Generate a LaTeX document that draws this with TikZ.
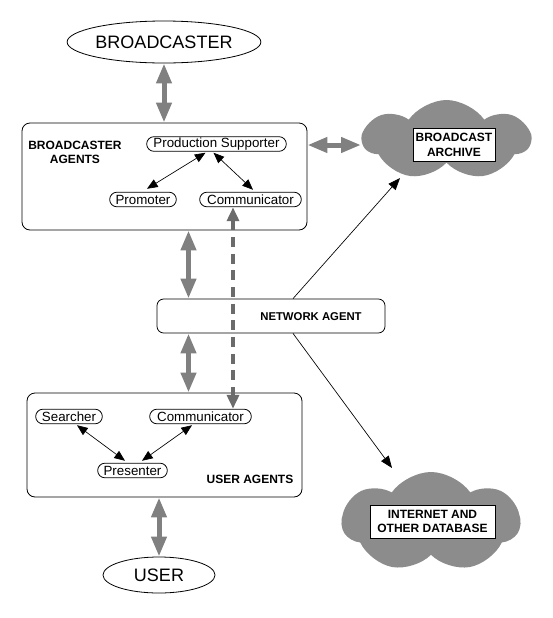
\documentclass[tikz,border=0pt]{standalone}
\usepackage{fontspec}
\setmainfont{Liberation Sans}
\usepackage{tikz}
\usetikzlibrary{shapes.geometric, shapes.misc, shapes.symbols, arrows.meta, positioning, calc}
\tikzset{
    agentbox/.style={rectangle, draw, rounded corners=6pt, line width=0.6pt},
    pill/.style={rounded rectangle, draw, line width=0.6pt, inner sep=0.5pt, minimum height=11pt, font=\fontsize{10}{11}\selectfont},
    endpoint/.style={ellipse, draw, line width=0.6pt, inner sep=0pt, font=\fontsize{13.5}{15}\selectfont},
    boxlabel/.style={font=\bfseries\fontsize{9}{10.5}\selectfont, align=center},
    cloudarea/.style={cloud, cloud puffs=7, cloud puff arc=110, cloud ignores aspect, fill=black!45, inner sep=0pt},
    cloudtext/.style={rectangle, draw, fill=white, line width=0.6pt, inner sep=0pt, align=center, font=\bfseries\fontsize{9}{11}\selectfont},
    bigarrow/.style={{Triangle[length=15pt,width=11pt]}-{Triangle[length=15pt,width=11pt]}, line width=3.75pt, draw=black!50},
    dasharrow/.style={{Triangle[length=10.5pt,width=9pt]}-{Triangle[length=10.5pt,width=9pt]}, line width=3pt, draw=black!58, dash pattern=on 7.5pt off 5pt},
    linkarrow/.style={-{Triangle[length=9pt,width=7pt]}, line width=0.5pt},
    innerarrow/.style={{Triangle[length=8pt,width=6.5pt]}-{Triangle[length=8pt,width=6.5pt]}, line width=0.5pt},
}

\begin{document}
\begin{tikzpicture}[x=0.75pt, y=-0.75pt]
    \useasboundingbox (0,0) rectangle (553,618);

    % broadcaster side
    \node[endpoint, minimum width=133.5pt, minimum height=31.5pt] (broadcaster) at (164,42) {BROADCASTER};
    \node[agentbox, minimum width=213.75pt, minimum height=80.25pt] (bagents) at (164.5,176.5) {};
    \node[boxlabel] (bagentslabel) at (75,152.5) {BROADCASTER\\AGENTS};
    \node[pill, minimum width=105.75pt] (prodsup) at (216.5,144) {Production Supporter};
    \node[pill, minimum width=51pt] (promoter) at (143,199.5) {Promoter};
    \node[pill, minimum width=77.25pt] (bcomm) at (250.5,199.5) {Communicator};

    % archives
    \node[cloudarea, minimum width=125.25pt, minimum height=60pt] (archive) at (446.5,140) {};
    \node[cloudtext, minimum width=61.5pt, minimum height=24.75pt] (archtext) at (454,145) {BROADCAST\\ARCHIVE};
    \node[cloudarea, minimum width=133.5pt, minimum height=75pt] (internet) at (431,522) {};
    \node[cloudtext, minimum width=93.75pt, minimum height=24.75pt] (nettext) at (432.5,521.5) {INTERNET AND\\OTHER DATABASE};

    % network
    \node[agentbox, rounded corners=5pt, minimum width=171pt, minimum height=25.5pt] (netagent) at (271,316) {};
    \node[boxlabel, font=\bfseries\fontsize{8.5}{10}\selectfont] (netlabel) at (311,317) {NETWORK AGENT};

    % user side
    \node[agentbox, minimum width=206.25pt, minimum height=78pt] (uagents) at (164.5,445) {};
    \node[boxlabel] (uagentslabel) at (250,479) {USER AGENTS};
    \node[pill, minimum width=51pt] (searcher) at (69,416.5) {Searcher};
    \node[pill, minimum width=77.25pt] (ucomm) at (200.5,416.5) {Communicator};
    \node[pill, minimum width=53.25pt] (presenter) at (132.5,470.5) {Presenter};
    \node[endpoint, minimum width=84pt, minimum height=27pt] (user) at (159,575) {USER};

    % gray links
    \draw[bigarrow] (broadcaster) -- (broadcaster |- bagents.north);
    \draw[bigarrow] (bagents.east |- archtext) -- (archive.west |- archtext);
    \draw[bigarrow] ([shift={(24,0)}]bagents.south) -- ([shift={(24,0)}]bagents.south |- netagent.north);
    \draw[bigarrow] ([shift={(24,0)}]bagents.south |- netagent.south) -- ([shift={(24,0)}]bagents.south |- uagents.north);
    \draw[bigarrow] (user |- uagents.south) -- (user);
    \draw[dasharrow] ([shift={(-17.5,0)}]bcomm.south) -- ([shift={(-17.5,0)}]bcomm.south |- ucomm.north);

    % thin links
    \draw[linkarrow] ([shift={(22,0)}]netagent.north) -- ([shift={(-46.5,38)}]archive.center);
    \draw[linkarrow] ([shift={(22,0)}]netagent.south) -- ([shift={(-39,-54)}]internet.center);
    \draw[innerarrow] ([shift={(-11,1)}]prodsup.south) -- ([shift={(4,-3)}]promoter.north);
    \draw[innerarrow] ([shift={(-3,1)}]prodsup.south) -- ([shift={(2.5,-2)}]bcomm.north);
    \draw[innerarrow] ([shift={(8,1)}]searcher.south) -- ([shift={(-7.5,-2)}]presenter.north);
    \draw[innerarrow] ([shift={(-8.5,1)}]ucomm.south) -- ([shift={(9.5,-2)}]presenter.north);
\end{tikzpicture}
\end{document}
